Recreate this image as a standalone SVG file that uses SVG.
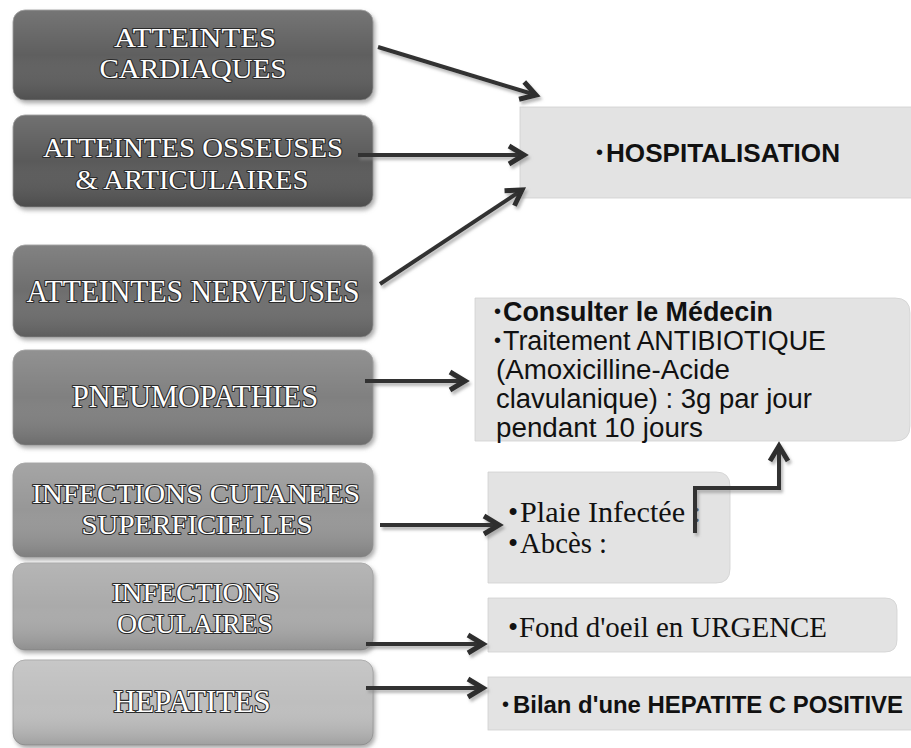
<svg xmlns="http://www.w3.org/2000/svg" width="911" height="748" viewBox="0 0 911 748">
  <defs>
    <linearGradient id="shade" x1="0" y1="0" x2="0" y2="1">
      <stop offset="0" stop-color="#ffffff" stop-opacity="0.14"/>
      <stop offset="0.5" stop-color="#ffffff" stop-opacity="0"/>
      <stop offset="1" stop-color="#000000" stop-opacity="0.16"/>
    </linearGradient>
    <filter id="sh" x="-10%" y="-10%" width="120%" height="130%">
      <feDropShadow dx="2" dy="3" stdDeviation="2" flood-color="#777" flood-opacity="0.6"/>
    </filter>
    <filter id="ash" x="-20%" y="-20%" width="140%" height="140%">
      <feDropShadow dx="2" dy="3" stdDeviation="1.5" flood-color="#888" flood-opacity="0.6"/>
    </filter>
    <marker id="chev" viewBox="0 0 24 24" refX="19" refY="12" markerWidth="24" markerHeight="24" markerUnits="userSpaceOnUse" orient="auto">
      <path d="M4,3 L19,12 L4,21" fill="none" stroke="#2e2e2e" stroke-width="5" stroke-linejoin="miter"/>
    </marker>
  </defs>
  <style>
    .lbox { stroke: #9a9a9a; stroke-width: 0.8; filter: url(#sh); }
    .ov { fill: url(#shade); }
    .lt { font-family: "Liberation Serif", "Times New Roman", serif; font-size: 28px; fill: #ffffff; stroke: #2a2a2a; stroke-width: 2.2px; paint-order: stroke; text-anchor: middle; stroke-linejoin: round; }
    .big { font-size: 31px; }
    .rbox { fill: #e3e3e3; stroke: #d0d0d0; stroke-width: 0.8; }
    .sans { font-family: "Liberation Sans", Arial, sans-serif; fill: #111; }
    .dot { font-family: "Liberation Sans", Arial, sans-serif; fill: #111; font-size: 20px; }
    .serif { font-family: "Liberation Serif", "Times New Roman", serif; fill: #111; font-size: 29px; }
    .b { font-weight: bold; }
    .conn { stroke: #333; stroke-width: 4; fill: none; }
  </style>

  <rect width="911" height="748" fill="#ffffff"/>

  <g id="n-cardiaques">
    <rect class="lbox" x="13" y="10" width="360" height="90" rx="12" fill="#5e5e5e"/>
    <rect class="ov" x="13" y="10" width="360" height="90" rx="12"/>
    <text class="lt" x="195" y="47" textLength="162" lengthAdjust="spacingAndGlyphs">ATTEINTES</text>
    <text class="lt" x="193" y="78" textLength="187" lengthAdjust="spacingAndGlyphs">CARDIAQUES</text>
  </g>
  <g id="n-osseuses">
    <rect class="lbox" x="13" y="115" width="360" height="92" rx="12" fill="#5a5a5a"/>
    <rect class="ov" x="13" y="115" width="360" height="92" rx="12"/>
    <text class="lt" x="193" y="157" textLength="300" lengthAdjust="spacingAndGlyphs">ATTEINTES OSSEUSES</text>
    <text class="lt" x="192" y="189" textLength="233" lengthAdjust="spacingAndGlyphs">&amp; ARTICULAIRES</text>
  </g>
  <g id="n-nerveuses">
    <rect class="lbox" x="13" y="245" width="360" height="92" rx="12" fill="#6e6e6e"/>
    <rect class="ov" x="13" y="245" width="360" height="92" rx="12"/>
    <text class="lt big" x="193" y="302" textLength="333" lengthAdjust="spacingAndGlyphs">ATTEINTES NERVEUSES</text>
  </g>
  <g id="n-pneumo">
    <rect class="lbox" x="13" y="350" width="360" height="95" rx="12" fill="#808080"/>
    <rect class="ov" x="13" y="350" width="360" height="95" rx="12"/>
    <text class="lt big" x="195" y="407" textLength="246" lengthAdjust="spacingAndGlyphs">PNEUMOPATHIES</text>
  </g>
  <g id="n-cutanees">
    <rect class="lbox" x="13" y="463" width="360" height="94" rx="12" fill="#979797"/>
    <rect class="ov" x="13" y="463" width="360" height="94" rx="12"/>
    <text class="lt" x="196" y="503" textLength="328" lengthAdjust="spacingAndGlyphs">INFECTIONS CUTANEES</text>
    <text class="lt" x="197" y="534" textLength="231" lengthAdjust="spacingAndGlyphs">SUPERFICIELLES</text>
  </g>
  <g id="n-oculaires">
    <rect class="lbox" x="13" y="563" width="360" height="87" rx="12" fill="#aaaaaa"/>
    <rect class="ov" x="13" y="563" width="360" height="87" rx="12"/>
    <text class="lt" x="196" y="602" textLength="168" lengthAdjust="spacingAndGlyphs">INFECTIONS</text>
    <text class="lt" x="195" y="633" textLength="156" lengthAdjust="spacingAndGlyphs">OCULAIRES</text>
  </g>
  <g id="n-hepatites">
    <rect class="lbox" x="13" y="660" width="360" height="85" rx="12" fill="#bebebe"/>
    <rect class="ov" x="13" y="660" width="360" height="85" rx="12"/>
    <text class="lt big" x="192" y="712" textLength="157" lengthAdjust="spacingAndGlyphs">HEPATITES</text>
  </g>

  <g id="n-hospitalisation">
    <rect class="rbox" x="520" y="107" width="395" height="91"/>
    <text class="dot" x="596" y="159">•</text>
    <text class="sans b" x="606" y="162" font-size="26" textLength="234" lengthAdjust="spacingAndGlyphs">HOSPITALISATION</text>
  </g>
  <g id="n-consulter">
    <path class="rbox" d="M475,298 H895 Q910,298 910,313 V426 Q910,441 895,441 H475 Z"/>
    <text class="dot" x="494" y="318">•</text>
    <text class="sans b" x="503" y="321" font-size="27" textLength="270" lengthAdjust="spacingAndGlyphs">Consulter le Médecin</text>
    <text class="dot" x="494" y="347">•</text>
    <text class="sans" x="503" y="350" font-size="27" textLength="323" lengthAdjust="spacingAndGlyphs">Traitement ANTIBIOTIQUE</text>
    <text class="sans" x="496" y="379" font-size="27" textLength="234" lengthAdjust="spacingAndGlyphs">(Amoxicilline-Acide</text>
    <text class="sans" x="496" y="408" font-size="27" textLength="316" lengthAdjust="spacingAndGlyphs">clavulanique) : 3g par jour</text>
    <text class="sans" x="496" y="437" font-size="27" textLength="207" lengthAdjust="spacingAndGlyphs">pendant 10 jours</text>
  </g>
  <g id="n-plaie">
    <path class="rbox" d="M488,472 H716 Q730,472 730,486 V569 Q730,583 716,583 H488 Z"/>
    <text class="serif" x="508" y="522">•</text>
    <text class="serif" x="520" y="522" textLength="181" lengthAdjust="spacingAndGlyphs">Plaie Infectée :</text>
    <text class="serif" x="508" y="553">•</text>
    <text class="serif" x="520" y="553" textLength="87" lengthAdjust="spacingAndGlyphs">Abcès :</text>
  </g>
  <g id="n-fond">
    <path class="rbox" d="M488,598 H885 Q897,598 897,610 V640 Q897,652 885,652 H488 Z"/>
    <text class="serif" x="508" y="637">•</text>
    <text class="serif" x="519" y="637" textLength="308" lengthAdjust="spacingAndGlyphs">Fond d'oeil en URGENCE</text>
  </g>
  <g id="n-bilan">
    <rect class="rbox" x="488" y="677" width="428" height="53"/>
    <text class="dot" x="502" y="711">•</text>
    <text class="sans b" x="513" y="713" font-size="24" textLength="390" lengthAdjust="spacingAndGlyphs">Bilan d'une HEPATITE C POSITIVE</text>
  </g>

  <g id="connectors" filter="url(#ash)">
    <line class="conn" x1="378" y1="47" x2="536" y2="95" marker-end="url(#chev)"/>
    <line class="conn" x1="358" y1="155" x2="524" y2="155" marker-end="url(#chev)"/>
    <line class="conn" x1="380" y1="284" x2="522" y2="190" marker-end="url(#chev)"/>
    <line class="conn" x1="365" y1="381" x2="465" y2="381" marker-end="url(#chev)"/>
    <line class="conn" x1="380" y1="525" x2="499" y2="525" marker-end="url(#chev)"/>
    <line class="conn" x1="366" y1="644" x2="483" y2="644" marker-end="url(#chev)"/>
    <line class="conn" x1="366" y1="688" x2="483" y2="688" marker-end="url(#chev)"/>
    <polyline class="conn" points="695,533 695,488 779,488 779,446" stroke-width="5" marker-end="url(#chev)"/>
  </g>
</svg>
